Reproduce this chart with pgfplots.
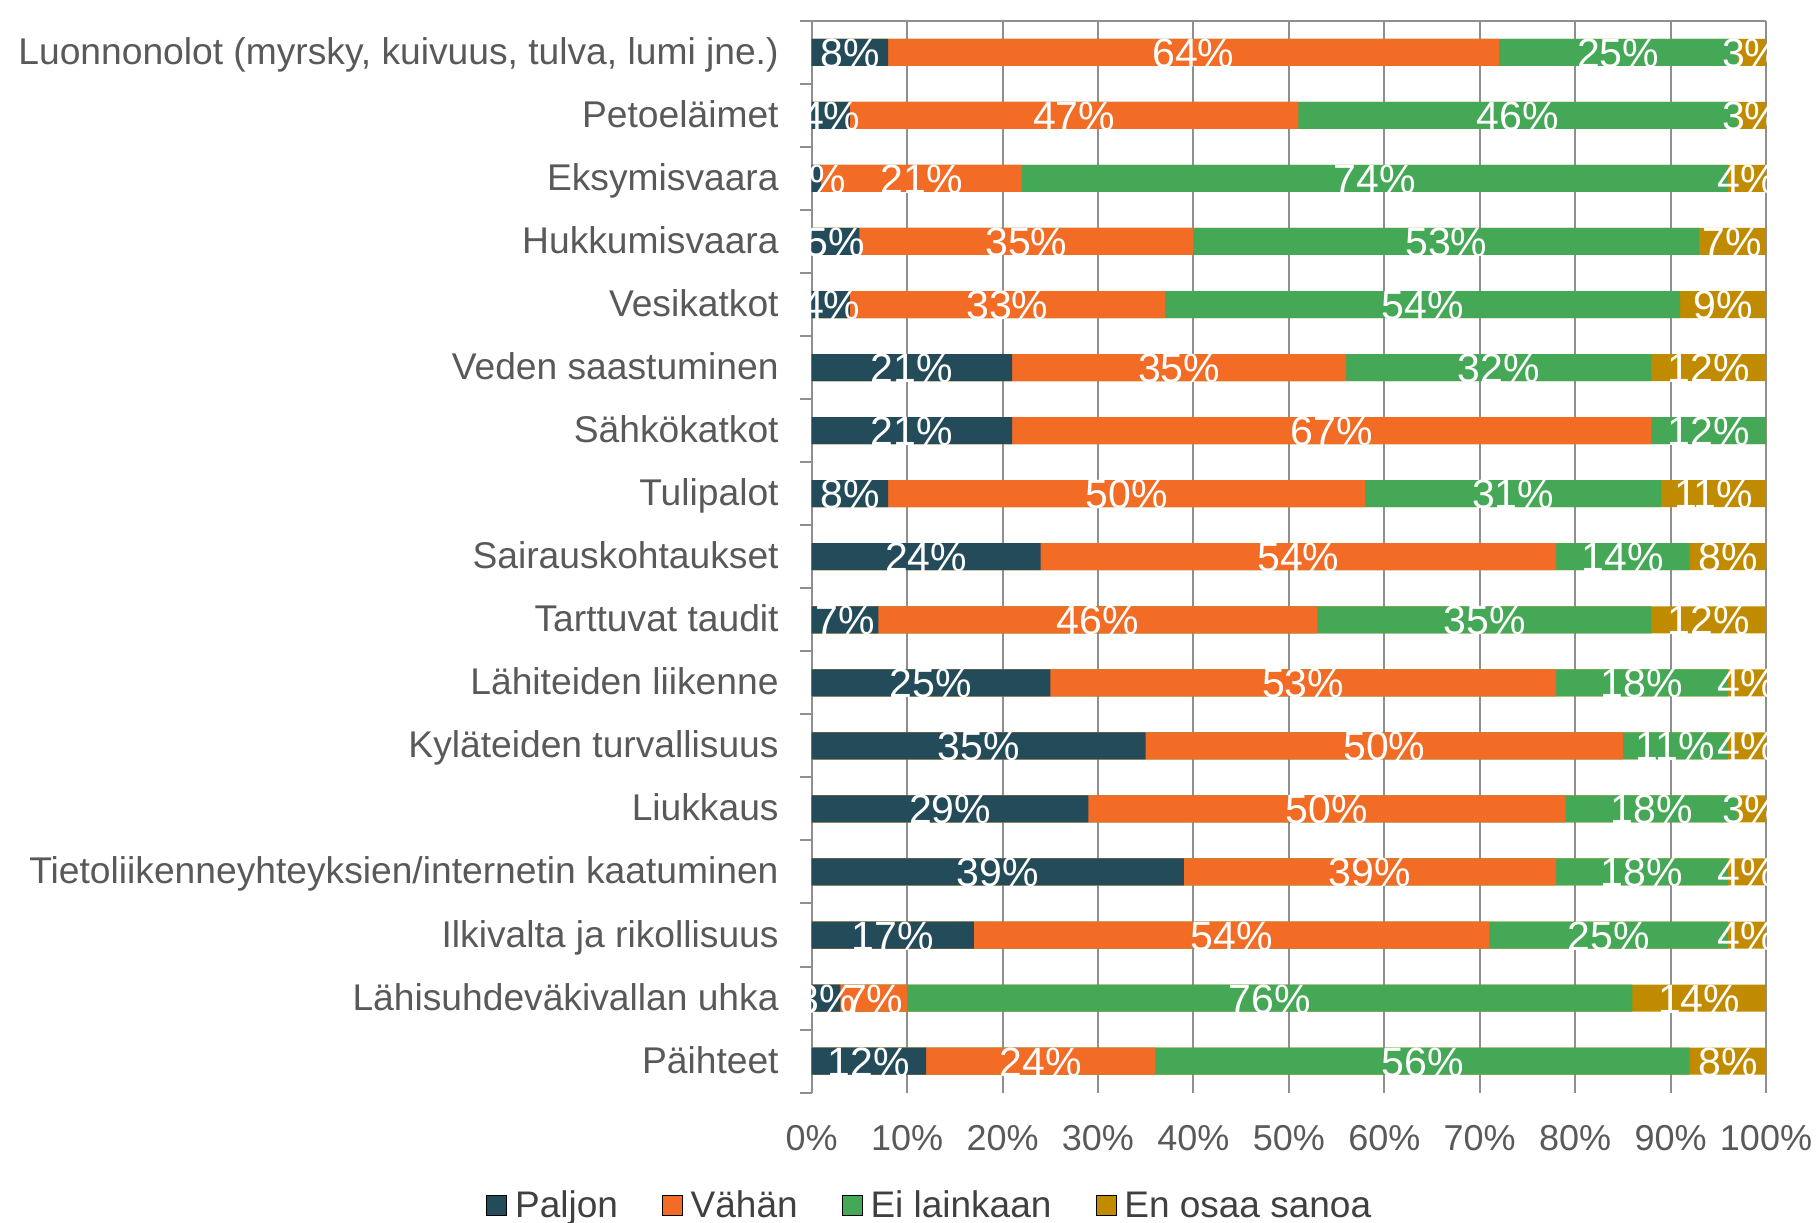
\documentclass[border=0pt]{standalone}
\usepackage{pgfplots}
\pgfplotsset{compat=1.18}
\usepackage{pgfplotstable}
\usepackage{fontspec}
\setmainfont{Liberation Sans}
\definecolor{cA}{HTML}{234B5A}
\definecolor{cB}{HTML}{F26C26}
\definecolor{cC}{HTML}{45A856}
\definecolor{cD}{HTML}{C18B00}
\definecolor{gridgray}{HTML}{8F8F8F}
\definecolor{labgray}{HTML}{595959}
\definecolor{leggray}{HTML}{404040}
\pgfplotstableread{
name a b c d
Luonnonolot 8 64 25 3
Petoelaimet 4 47 46 3
Eksymisvaara 1 21 74 4
Hukkumisvaara 5 35 53 7
Vesikatkot 4 33 54 9
Veden 21 35 32 12
Sahkokatkot 21 67 12 0
Tulipalot 8 50 31 11
Sairauskohtaukset 24 54 14 8
Tarttuvat 7 46 35 12
Lahiteiden 25 53 18 4
Kylateiden 35 50 11 4
Liukkaus 29 50 18 3
Tietoliikenne 39 39 18 4
Ilkivalta 17 54 25 4
Lahisuhde 3 7 76 14
Paihteet 12 24 56 8
}\data
\pgfplotsset{
  seg/.style={xbar, bar width=13.5pt, bar shift=0pt, fill=#1, draw=none, forget plot},
  lbl/.style={only marks, mark=none, forget plot, point meta=explicit,
    nodes near coords={\pgfmathprintnumber{\pgfplotspointmeta}\%},
    every node near coord/.append style={font=\fontsize{20.5}{22}\selectfont, text=white, anchor=base, inner sep=0pt, yshift=-7.5pt}},
}
\begin{document}
\begin{tikzpicture}
\path[use as bounding box] (-405.85pt,-64.7pt) rectangle (503.15pt,546.3pt);
\begin{axis}[
  at={(0,0)}, anchor=south west,
  scale only axis, width=477.15pt, height=535.9pt,
  xmin=0, xmax=100, ymin=-0.5, ymax=16.5, y dir=reverse,
  axis line style={draw=none},
  xtick={0,10,...,100},
  xticklabel={\pgfmathprintnumber{\tick}\%},
  /pgf/number format/assume math mode=true,
  xticklabel style={font=\fontsize{18}{20}\selectfont, text=labgray, anchor=base, inner sep=0pt, yshift=-28.7pt},
  ytick={0,...,16},
  yticklabels={{Luonnonolot (myrsky, kuivuus, tulva, lumi jne.)},Petoeläimet,Eksymisvaara,Hukkumisvaara,Vesikatkot,Veden saastuminen,Sähkökatkot,Tulipalot,Sairauskohtaukset,Tarttuvat taudit,Lähiteiden liikenne,Kyläteiden turvallisuus,Liukkaus,{Tietoliikenneyhteyksien/internetin kaatuminen},Ilkivalta ja rikollisuus,Lähisuhdeväkivallan uhka,Päihteet},
  yticklabel style={font=\fontsize{18.6}{20}\selectfont, text=labgray, anchor=base east, inner sep=0pt, xshift=-16.35pt, yshift=-6pt},
  minor ytick={-0.5,0.5,...,16.5},
  ytick pos=left, xtick pos=bottom,
  tick align=outside,
  major tick length=0pt, minor tick length=6pt,
  tick style={gridgray, line width=1pt},
  xmajorgrids, grid style={gridgray, line width=1pt},
  legend image code/.code={\fill[#1] (0pt,-4.8pt) rectangle (10pt,5.2pt);},
  legend columns=4,
  legend style={draw=none, fill=none, inner sep=0pt, at={(0,0)}, anchor=south west, xshift=-162.9pt, yshift=-64.3pt,
    font=\fontsize{18.5}{20}\selectfont, text=leggray, nodes={inner sep=0pt},
    /tikz/every odd column/.append style={column sep=4pt},
    /tikz/every even column/.append style={column sep=22pt}},
]
\addlegendimage{fill=cA}
\addlegendentry{Paljon}
\addlegendimage{fill=cB}
\addlegendentry{Vähän}
\addlegendimage{fill=cC}
\addlegendentry{Ei lainkaan}
\addlegendimage{fill=cD}
\addlegendentry{En osaa sanoa}
\draw[gridgray, line width=1pt] (axis cs:0,-0.5) -- (axis cs:100,-0.5);
\draw[gridgray, line width=1pt] (axis cs:0,-0.5) -- (axis cs:0,16.5);
% bars (each drawn from 0 to its cumulative share, back to front)
\addplot[seg=cD] table[x expr=\thisrow{a}+\thisrow{b}+\thisrow{c}+\thisrow{d}, y expr=\coordindex]{\data};
\addplot[seg=cC] table[x expr=\thisrow{a}+\thisrow{b}+\thisrow{c}, y expr=\coordindex]{\data};
\addplot[seg=cB] table[x expr=\thisrow{a}+\thisrow{b}, y expr=\coordindex]{\data};
\addplot[seg=cA] table[x expr=\thisrow{a}, y expr=\coordindex]{\data};
% labels centred in each segment
\addplot[lbl] table[x expr=\thisrow{a}/2, y expr=\coordindex, meta=a]{\data};
\addplot[lbl] table[x expr=\thisrow{a}+\thisrow{b}/2, y expr=\coordindex, meta=b]{\data};
\addplot[lbl] table[x expr=\thisrow{a}+\thisrow{b}+\thisrow{c}/2, y expr=\coordindex, meta=c]{\data};
\addplot[lbl, skip coords between index={6}{7}] table[x expr=\thisrow{a}+\thisrow{b}+\thisrow{c}+\thisrow{d}/2, y expr=\coordindex, meta=d]{\data};
\end{axis}
\end{tikzpicture}
\end{document}
